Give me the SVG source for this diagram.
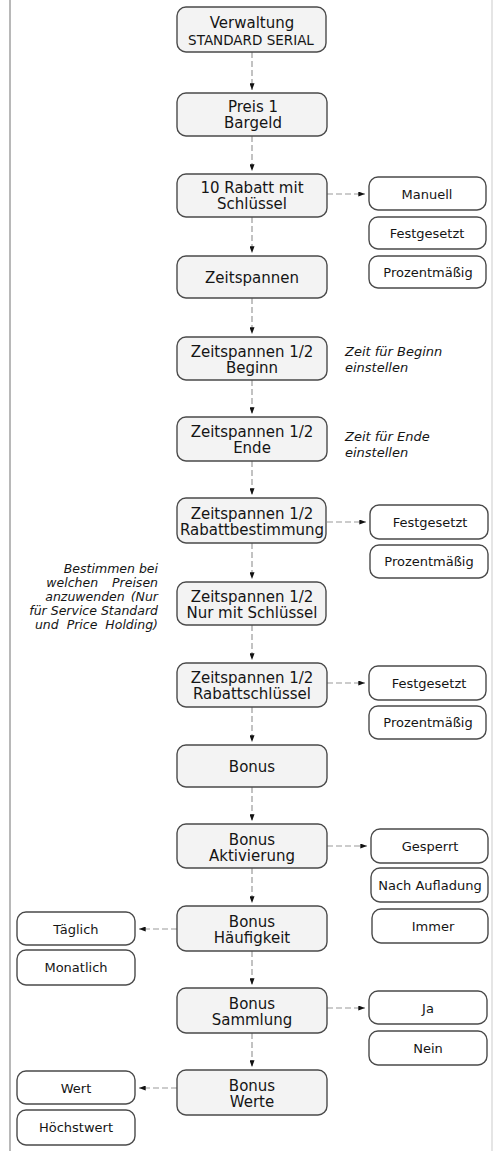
<svg xmlns="http://www.w3.org/2000/svg" width="494" height="1151" viewBox="0 0 494 1151">
<defs>
<marker id="ah" viewBox="0 0 8 6" markerWidth="7" markerHeight="5" refX="8" refY="3" orient="auto" markerUnits="userSpaceOnUse">
<path d="M0,0 L8,3 L0,6 z" fill="#111"/>
</marker>
<style>
.bg{fill:#ffffff}
.main rect{fill:#f3f3f3;stroke:#4a4a4a;stroke-width:1.4}
.side rect{fill:#ffffff;stroke:#4a4a4a;stroke-width:1.4}
.main text{font-family:"DejaVu Sans",sans-serif;font-size:15px;fill:#151515;text-anchor:middle}
.side text{font-family:"DejaVu Sans",sans-serif;font-size:13px;fill:#151515;text-anchor:middle}
.note text{font-family:"DejaVu Sans",sans-serif;font-size:13px;font-style:italic;fill:#151515}
.conn line{stroke:#9a9a9a;stroke-width:1.2;stroke-dasharray:6 3;marker-end:url(#ah)}
.frame{stroke-width:1.5}
</style>
</defs>
<rect class="bg" x="0" y="0" width="494" height="1151"/>
<line class="frame" x1="10" y1="0" x2="10" y2="1151" stroke="#a0a0a0"/>
<line class="frame" x1="492" y1="0" x2="492" y2="1151" stroke="#dcdcdc"/>

<g id="connectors" class="conn">
<line x1="252" y1="52" x2="252" y2="90"/>
<line x1="252" y1="136" x2="252" y2="171"/>
<line x1="252" y1="217" x2="252" y2="253"/>
<line x1="252" y1="298" x2="252" y2="334"/>
<line x1="252" y1="380" x2="252" y2="414"/>
<line x1="252" y1="461" x2="252" y2="495"/>
<line x1="252" y1="543" x2="252" y2="579"/>
<line x1="252" y1="625" x2="252" y2="660"/>
<line x1="252" y1="707" x2="252" y2="742"/>
<line x1="252" y1="787" x2="252" y2="821"/>
<line x1="252" y1="868" x2="252" y2="903"/>
<line x1="252" y1="951" x2="252" y2="985"/>
<line x1="252" y1="1033" x2="252" y2="1067"/>
<line x1="327" y1="194" x2="365" y2="194"/>
<line x1="327" y1="522" x2="366" y2="522"/>
<line x1="327" y1="683" x2="365" y2="683"/>
<line x1="327" y1="846" x2="367" y2="846"/>
<line x1="177" y1="929" x2="139" y2="929"/>
<line x1="327" y1="1008" x2="365" y2="1008"/>
<line x1="177" y1="1088" x2="139" y2="1088"/>
</g>

<g id="n1" class="main"><rect x="177" y="7" width="149" height="45" rx="9"/><text x="252" y="28">Verwaltung</text><text x="251" y="45" style="font-size:13.5px">STANDARD SERIAL</text></g>
<g id="n2" class="main"><rect x="177" y="93" width="150" height="43" rx="9"/><text x="253" y="112">Preis 1</text><text x="253" y="128">Bargeld</text></g>
<g id="n3" class="main"><rect x="177" y="174" width="150" height="43" rx="9"/><text x="252" y="193">10 Rabatt mit</text><text x="252" y="209">Schlüssel</text></g>
<g id="n4" class="main"><rect x="177" y="256" width="150" height="42" rx="9"/><text x="252" y="283">Zeitspannen</text></g>
<g id="n5" class="main"><rect x="177" y="337" width="150" height="43" rx="9"/><text x="252" y="357">Zeitspannen 1/2</text><text x="252" y="373">Beginn</text></g>
<g id="n6" class="main"><rect x="177" y="417" width="150" height="44" rx="9"/><text x="252" y="437">Zeitspannen 1/2</text><text x="252" y="453">Ende</text></g>
<g id="n7" class="main"><rect x="177" y="498" width="149" height="45" rx="9"/><text x="252" y="519">Zeitspannen 1/2</text><text x="252" y="535">Rabattbestimmung</text></g>
<g id="n8" class="main"><rect x="177" y="582" width="149" height="43" rx="9"/><text x="252" y="602">Zeitspannen 1/2</text><text x="252" y="618">Nur mit Schlüssel</text></g>
<g id="n9" class="main"><rect x="177" y="663" width="150" height="44" rx="9"/><text x="252" y="683">Zeitspannen 1/2</text><text x="252" y="699">Rabattschlüssel</text></g>
<g id="n10" class="main"><rect x="177" y="745" width="150" height="42" rx="9"/><text x="252" y="772">Bonus</text></g>
<g id="n11" class="main"><rect x="177" y="824" width="150" height="44" rx="9"/><text x="252" y="845">Bonus</text><text x="252" y="861">Aktivierung</text></g>
<g id="n12" class="main"><rect x="177" y="906" width="150" height="45" rx="9"/><text x="252" y="927">Bonus</text><text x="252" y="943">Häufigkeit</text></g>
<g id="n13" class="main"><rect x="177" y="988" width="150" height="45" rx="9"/><text x="252" y="1009">Bonus</text><text x="252" y="1025">Sammlung</text></g>
<g id="n14" class="main"><rect x="177" y="1070" width="150" height="45" rx="9"/><text x="252" y="1091">Bonus</text><text x="252" y="1107">Werte</text></g>

<g id="s1" class="side"><rect x="369" y="177" width="117" height="33" rx="9"/><text x="427" y="199">Manuell</text></g>
<g id="s2" class="side"><rect x="369" y="217" width="117" height="32" rx="9"/><text x="427" y="238">Festgesetzt</text></g>
<g id="s3" class="side"><rect x="369" y="256" width="117" height="32" rx="9"/><text x="428" y="277">Prozentmäßig</text></g>
<g id="s4" class="side"><rect x="370" y="505" width="118" height="34" rx="9"/><text x="430" y="527">Festgesetzt</text></g>
<g id="s5" class="side"><rect x="370" y="545" width="118" height="33" rx="9"/><text x="429" y="566">Prozentmäßig</text></g>
<g id="s6" class="side"><rect x="369" y="666" width="117" height="34" rx="9"/><text x="429" y="688">Festgesetzt</text></g>
<g id="s7" class="side"><rect x="369" y="706" width="117" height="33" rx="9"/><text x="428" y="727">Prozentmäßig</text></g>
<g id="s8" class="side"><rect x="371" y="829" width="117" height="34" rx="9"/><text x="430" y="851">Gesperrt</text></g>
<g id="s9" class="side"><rect x="371" y="868" width="117" height="34" rx="9"/><text x="430" y="890">Nach Aufladung</text></g>
<g id="s10" class="side"><rect x="372" y="909" width="116" height="34" rx="9"/><text x="433" y="931">Immer</text></g>
<g id="s11" class="side"><rect x="17" y="912" width="118" height="33" rx="9"/><text x="76" y="934">Täglich</text></g>
<g id="s12" class="side"><rect x="17" y="950" width="118" height="35" rx="9"/><text x="76" y="972">Monatlich</text></g>
<g id="s13" class="side"><rect x="369" y="991" width="118" height="33" rx="9"/><text x="428" y="1013">Ja</text></g>
<g id="s14" class="side"><rect x="369" y="1031" width="118" height="34" rx="9"/><text x="428" y="1053">Nein</text></g>
<g id="s15" class="side"><rect x="17" y="1071" width="118" height="33" rx="9"/><text x="76" y="1093">Wert</text></g>
<g id="s16" class="side"><rect x="17" y="1110" width="118" height="35" rx="9"/><text x="76" y="1132">Höchstwert</text></g>

<g id="note1" class="note"><text x="345" y="356">Zeit für Beginn</text><text x="345" y="372">einstellen</text></g>
<g id="note2" class="note"><text x="345" y="441">Zeit für Ende</text><text x="345" y="457">einstellen</text></g>
<g id="note3" class="note" style="text-anchor:end">
<text x="158" y="573" style="font-size:12.5px">Bestimmen bei</text>
<text x="158" y="587" style="font-size:12.5px" word-spacing="10">welchen Preisen</text>
<text x="158" y="601" style="font-size:12.5px" word-spacing="2">anzuwenden (Nur</text>
<text x="158" y="615" style="font-size:12.5px">für Service Standard</text>
<text x="158" y="629" style="font-size:12.5px" word-spacing="4">und Price Holding)</text>
</g>
</svg>
